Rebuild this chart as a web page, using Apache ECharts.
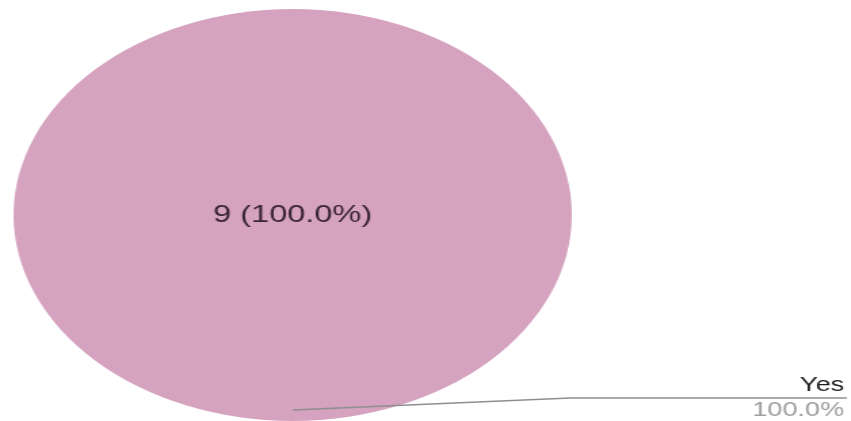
<!DOCTYPE html>
<html>
<head>
<meta charset="utf-8">
<script src="https://cdn.jsdelivr.net/npm/echarts@6/dist/echarts.min.js"></script>
<style>
    html, body { margin: 0; padding: 0; background: #fff; overflow: hidden; }
    /* the reference pie is stretched sideways, so the chart is drawn narrow and scaled */
    #wrap { width: 851px; height: 421px; overflow: hidden; }
    #main { width: 628px; height: 421px; transform: scaleX(1.355); transform-origin: 0 0; }
</style>
</head>
<body>
<div id="wrap"><div id="main"></div></div>
<script>
    // data
    var names = ['Yes'];
    var counts = [9];
    var pieColors = ['#d5a3bf'];

    var total = counts.reduce(function (a, b) { return a + b; }, 0);
    var pieData = names.map(function (n, i) {
        return { name: n, value: counts[i] };
    });

    var myChart = echarts.init(document.getElementById('main'));
    myChart.setOption({
        animation: false,
        color: pieColors,
        series: [{
            // filled pie, count and share in the middle
            type: 'pie',
            center: [216, 215],
            radius: 206,
            startAngle: 90,
            silent: true,
            z: 2,
            itemStyle: { borderWidth: 0 },
            label: {
                show: true,
                position: 'center',
                fontFamily: 'Liberation Sans, Arial',
                fontSize: 24,
                color: '#3b2436',
                formatter: function (p) {
                    return p.value + ' (' + (p.value / total * 100).toFixed(1) + '%)';
                }
            },
            labelLine: { show: false },
            data: pieData
        }, {
            // invisible copy, only for the outside legend-like label
            type: 'pie',
            center: [216, 215],
            radius: 195,
            startAngle: 90,
            silent: true,
            z: 6,
            itemStyle: { color: 'rgba(0,0,0,0)' },
            label: {
                show: true,
                position: 'outside',
                fontFamily: 'Liberation Sans, Arial',
                formatter: function (p) {
                    return '{a|' + p.name + '}\n{b|' + (p.value / total * 100).toFixed(1) + '%}';
                },
                rich: {
                    a: { fontSize: 20, color: '#222', lineHeight: 25, align: 'right',
                         fontFamily: 'Liberation Sans, Arial' },
                    b: { fontSize: 20, color: '#9e9e9e', lineHeight: 25, align: 'right',
                         fontFamily: 'Liberation Sans, Arial' }
                }
            },
            labelLine: {
                show: true,
                lineStyle: { color: '#8f8f8f', width: 1.3 }
            },
            labelLayout: function (p) {
                var w = myChart.getWidth();
                var start = p.labelLinePoints ? p.labelLinePoints[0] : [216, 410];
                return {
                    x: w - 5,
                    y: 398,
                    align: 'right',
                    verticalAlign: 'middle',
                    labelLinePoints: [start, [w * 0.67, 398], [w - 3, 398]]
                };
            },
            data: pieData
        }]
    });
</script>
</body>
</html>
